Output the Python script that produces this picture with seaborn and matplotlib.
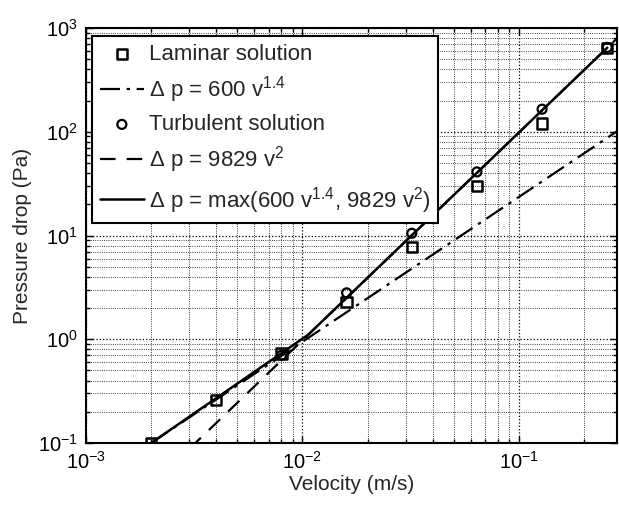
import matplotlib
matplotlib.use("Agg")
import matplotlib.pyplot as plt
import seaborn as sns

# ---- data ----
v_lam = [0.002, 0.004, 0.008, 0.016, 0.032, 0.064, 0.128, 0.256]
dp_lam = [0.1, 0.26, 0.73, 2.3, 7.8, 30, 120, 640]

v_turb = [0.008, 0.016, 0.032, 0.064, 0.128, 0.256]
dp_turb = [0.7, 2.8, 10.5, 41, 165, 650]

v_law14 = [0.002, 0.284]
dp_law14 = [0.1, 101]

v_law2 = [0.002, 0.284]
dp_law2 = [0.039, 793]

v_max = [0.002, 0.0106, 0.256]
dp_max = [0.1, 1.1, 645]

x_ticks = [1e-3, 1e-2, 1e-1]
y_ticks = [1e-1, 1e0, 1e1, 1e2, 1e3]

labels = ["Laminar solution",
          r"$\Delta$ p = 600 v$^{1.4}$",
          "Turbulent solution",
          r"$\Delta$ p = 9829 v$^{2}$",
          r"$\Delta$ p = max(600 v$^{1.4}$, 9829 v$^{2}$)"]

sns.set_style("ticks")
plt.rcParams["font.family"] = ["Liberation Sans", "DejaVu Sans"]
plt.rcParams["mathtext.fontset"] = "custom"
plt.rcParams["mathtext.rm"] = "Liberation Sans"
plt.rcParams["mathtext.it"] = "Liberation Sans"
plt.rcParams["mathtext.default"] = "regular"

fig = plt.figure(figsize=(6.19, 5.15), dpi=100)
ax = fig.add_axes([86/619, 72/515, 531/619, 415/515])

sns.scatterplot(x=v_lam, y=dp_lam, ax=ax, marker="s", s=55,
                facecolor="none", edgecolor="black", linewidth=1.8,
                label=labels[0], zorder=5)
sns.lineplot(x=v_law14, y=dp_law14, ax=ax, color="black", lw=1.6,
             label=labels[1], zorder=3)
ax.lines[-1].set_dashes([9, 3, 1.5, 3])
sns.scatterplot(x=v_turb, y=dp_turb, ax=ax, marker="o", s=42,
                facecolor="none", edgecolor="black", linewidth=1.6,
                label=labels[2], zorder=6)
sns.lineplot(x=v_law2, y=dp_law2, ax=ax, color="black", lw=1.6,
             label=labels[3], zorder=3)
ax.lines[-1].set_dashes([7, 5])
sns.lineplot(x=v_max, y=dp_max, ax=ax, color="black", lw=1.8,
             label=labels[4], zorder=4)

ax.set_xscale("log")
ax.set_yscale("log")
ax.set_xlim(1e-3, 0.284)
ax.set_ylim(1e-1, 1e3)
ax.set_xticks(x_ticks)
ax.set_yticks(y_ticks)

ax.grid(True, which="major", color="black", linestyle=":", linewidth=0.9)
ax.grid(True, which="minor", color="black", linestyle=":", linewidth=0.6)
ax.tick_params(which="both", direction="in", top=True, right=True,
               labelsize=14.5, width=1, colors="black")
ax.tick_params(axis="x", which="major", pad=6)
ax.tick_params(axis="y", which="major", pad=6)
ax.tick_params(which="major", length=5)
ax.tick_params(which="minor", length=3)
for sp in ax.spines.values():
    sp.set_linewidth(1.5)
    sp.set_color("black")

ax.set_xlabel("Velocity (m/s)", fontsize=15, labelpad=1)
ax.set_ylabel("Pressure drop (Pa)", fontsize=15, labelpad=4)

leg = ax.legend(loc="upper left", bbox_to_anchor=(0.011, 0.981),
                borderaxespad=0, fontsize=16, handlelength=2.0,
                labelspacing=0.42, handletextpad=0.2, borderpad=0.35,
                fancybox=False, framealpha=1, edgecolor="black")
leg.get_frame().set_linewidth(1.5)

fig.savefig("out.png", dpi=100)
